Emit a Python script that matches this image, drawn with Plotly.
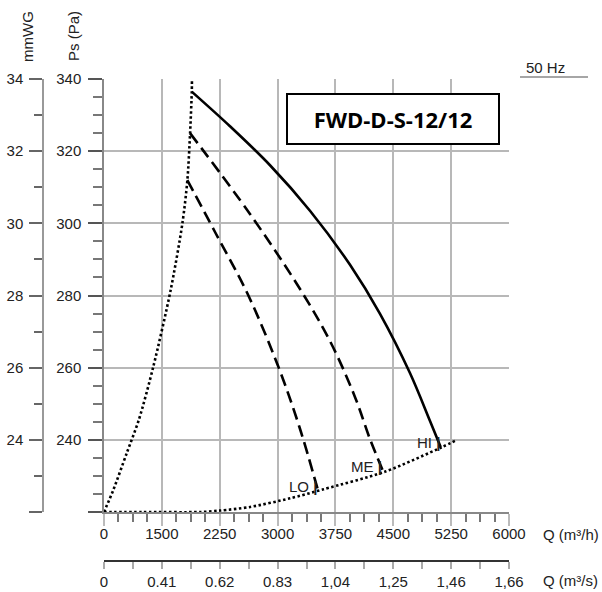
import numpy as np
import plotly.graph_objects as go

# ---- data ----
q_tick_labels = ["0", "1500", "2250", "3000", "3750", "4500", "5250", "6000"]
q_tick_values = [0, 1500, 2250, 3000, 3750, 4500, 5250, 6000]
qs_tick_labels = ["0", "0.41", "0.62", "0.83", "1,04", "1,25", "1,46", "1,66"]
ps_tick_values = [220, 240, 260, 280, 300, 320, 340]
ps_tick_labels = ["", "240", "260", "280", "300", "320", "340"]
mm_tick_values = [22, 24, 26, 28, 30, 32, 34]
mm_tick_labels = ["", "24", "26", "28", "30", "32", "34"]

hi_q = [1887, 2383, 2902, 3420, 3939, 4328, 4716, 4976, 5114]
hi_ps = [336.5, 326.9, 316.1, 303.5, 288.5, 274.9, 258.5, 245.2, 238.0]
me_q = [1865, 2642, 3291, 3679, 4003, 4198, 4370]
me_ps = [325.0, 302.6, 281.8, 267.4, 251.9, 240.2, 231.2]
lo_q = [1830, 2189, 2617, 3009, 3281, 3528]
lo_ps = [312.0, 297.6, 280.2, 260.3, 243.7, 225.7]
sys_left_q = [0, 241, 589, 908, 1279, 1615, 1767, 1831, 1866, 1888, 1890]
sys_left_ps = [220.0, 226.1, 236.3, 245.7, 260.3, 281.6, 300.1, 312.0, 325.0, 336.5, 339.5]
sys_low_q = [0, 1000, 1996, 2255, 2645, 3163, 3596, 4396, 5132, 5327]
sys_low_ps = [220.0, 220.0, 220.0, 220.4, 221.4, 223.8, 226.3, 231.2, 238.0, 240.0]
speed_names = ["LO", "ME", "HI"]

model_name = "FWD-D-S-12/12"


def qpos(q):
    # the chart's Q scale is piecewise linear (evenly spaced, irregular labels)
    return np.interp(q, q_tick_values, np.arange(len(q_tick_values)))


FONT = "Liberation Sans"
TICKFONT = dict(family=FONT, size=15, color="#222")

fig = go.Figure()

dot = "2.5px,2.5px"
fig.add_trace(go.Scatter(x=qpos(sys_left_q), y=sys_left_ps, mode="lines",
                         line=dict(color="black", width=2.6, dash=dot, shape="spline", smoothing=0.8),
                         hoverinfo="skip", showlegend=False))
fig.add_trace(go.Scatter(x=qpos(sys_low_q), y=sys_low_ps, mode="lines",
                         line=dict(color="black", width=2.6, dash=dot, shape="spline", smoothing=0.8),
                         hoverinfo="skip", showlegend=False))

for name, q, ps, dash in [("LO", lo_q, lo_ps, "12px,6px"),
                          ("ME", me_q, me_ps, "12px,6px"),
                          ("HI", hi_q, hi_ps, "solid")]:
    fig.add_trace(go.Scatter(x=qpos(q), y=ps, mode="lines", name=name,
                             line=dict(color="black", width=2.6, dash=dash, shape="spline", smoothing=1.0),
                             hoverinfo="skip", showlegend=False))
    fig.add_annotation(x=qpos(q[-1]), y=ps[-1], xref="x", yref="y",
                       text=name + " <b>|</b>", showarrow=False,
                       xanchor="right", yanchor="middle", xshift=1, yshift=5,
                       font=dict(family=FONT, size=15, color="#222"))

# dummy trace so the secondary axes are drawn
fig.add_trace(go.Scatter(x=[None], y=[None], xaxis="x2", yaxis="y2",
                         hoverinfo="skip", showlegend=False))

L, R, T, B = 43, 93, 79, 31
W, H = 602, 592
pw = W - L - R
ph = H - T - B
x_dom0 = (104 - L) / pw
y_dom0 = (561 - 512) / ph

fig.update_layout(
    width=W, height=H,
    margin=dict(l=L, r=R, t=T, b=B, pad=0, autoexpand=False),
    paper_bgcolor="white", plot_bgcolor="white",
    xaxis=dict(domain=[x_dom0, 1], range=[0, 7], tickmode="array",
               tickvals=list(range(8)), ticktext=q_tick_labels,
               showgrid=True, gridcolor="#b8b8b8", gridwidth=1.5,
               ticks="outside", ticklen=12, tickcolor="#bbbbbb", tickwidth=1.5,
               minor=dict(tickmode="linear", tick0=0, dtick=0.25, ticks="outside",
                          ticklen=8, tickcolor="#777", tickwidth=1.5, showgrid=False),
               showline=True, linecolor="#888", linewidth=1.5, automargin=False,
               zeroline=False, tickfont=TICKFONT, anchor="y", ticklabelstandoff=-5),
    yaxis=dict(domain=[y_dom0, 1], range=[220, 340], tickmode="array",
               tickvals=ps_tick_values, ticktext=ps_tick_labels,
               showgrid=True, gridcolor="#b8b8b8", gridwidth=1.5,
               ticks="outside", ticklen=14, tickcolor="#555", tickwidth=1.5,
               minor=dict(tickmode="linear", tick0=220, dtick=5, ticks="outside",
                          ticklen=9, tickcolor="#777", tickwidth=1.5, showgrid=False),
               showline=True, linecolor="#888", linewidth=1.5, automargin=False,
               zeroline=False, tickfont=TICKFONT, anchor="x", ticklabelstandoff=4),
    xaxis2=dict(overlaying="x", anchor="free", position=0, side="bottom",
                range=[0, 7], tickmode="array", tickvals=list(range(8)),
                ticktext=qs_tick_labels, showgrid=False, zeroline=False,
                ticks="outside", ticklen=7, tickcolor="#aaa", tickwidth=1.5,
                minor=dict(tickmode="linear", tick0=0, dtick=0.5, ticks="outside",
                           ticklen=7, tickcolor="#aaa", tickwidth=1.5, showgrid=False),
                showline=True, linecolor="#333", linewidth=1.5, tickfont=TICKFONT,
                automargin=False),
    yaxis2=dict(overlaying="y", anchor="free", position=0, side="left",
                range=[22, 34], tickmode="array", tickvals=mm_tick_values,
                ticktext=mm_tick_labels, showgrid=False, zeroline=False,
                ticks="outside", ticklen=13, tickcolor="#666", tickwidth=1.5,
                minor=dict(tickmode="linear", tick0=22, dtick=1, ticks="outside",
                           ticklen=8, tickcolor="#666", tickwidth=1.5, showgrid=False),
                showline=True, linecolor="#999", linewidth=1.5, tickfont=TICKFONT,
                ticklabelstandoff=3, automargin=False),
)

# model box
fig.add_annotation(x=5.0, y=329, xref="x", yref="y", text="<b>" + model_name + "</b>",
                   showarrow=False, width=208, height=46, borderpad=1,
                   bordercolor="black", borderwidth=2, bgcolor="white",
                   font=dict(family="Open Sans", size=22, color="black"))

def px_x(px):
    return (px - L) / pw

def px_y(py):
    return (H - B - py) / ph

def label(px, py, text, angle=0, xanchor="center"):
    fig.add_annotation(x=px_x(px), y=px_y(py), xref="paper", yref="paper", text=text,
                       textangle=angle, showarrow=False, xanchor=xanchor, yanchor="middle",
                       font=dict(family=FONT, size=15, color="#222"))

# axis titles and unit labels
label(27, 37, "mmWG", angle=-90)
label(73, 36, "Ps (Pa)", angle=-90)
label(541, 534, "Q (m³/h)", xanchor="left")
label(541, 580, "Q (m³/s)", xanchor="left")
label(545, 67, "50 Hz")
fig.add_shape(type="line", xref="paper", yref="paper", x0=px_x(520), x1=px_x(588),
              y0=px_y(77), y1=px_y(77), line=dict(color="#888", width=1.5))

fig.write_html("out.html", config={"displayModeBar": False},
               post_script="document.body.style.margin='0px';document.body.style.overflow='hidden';")
